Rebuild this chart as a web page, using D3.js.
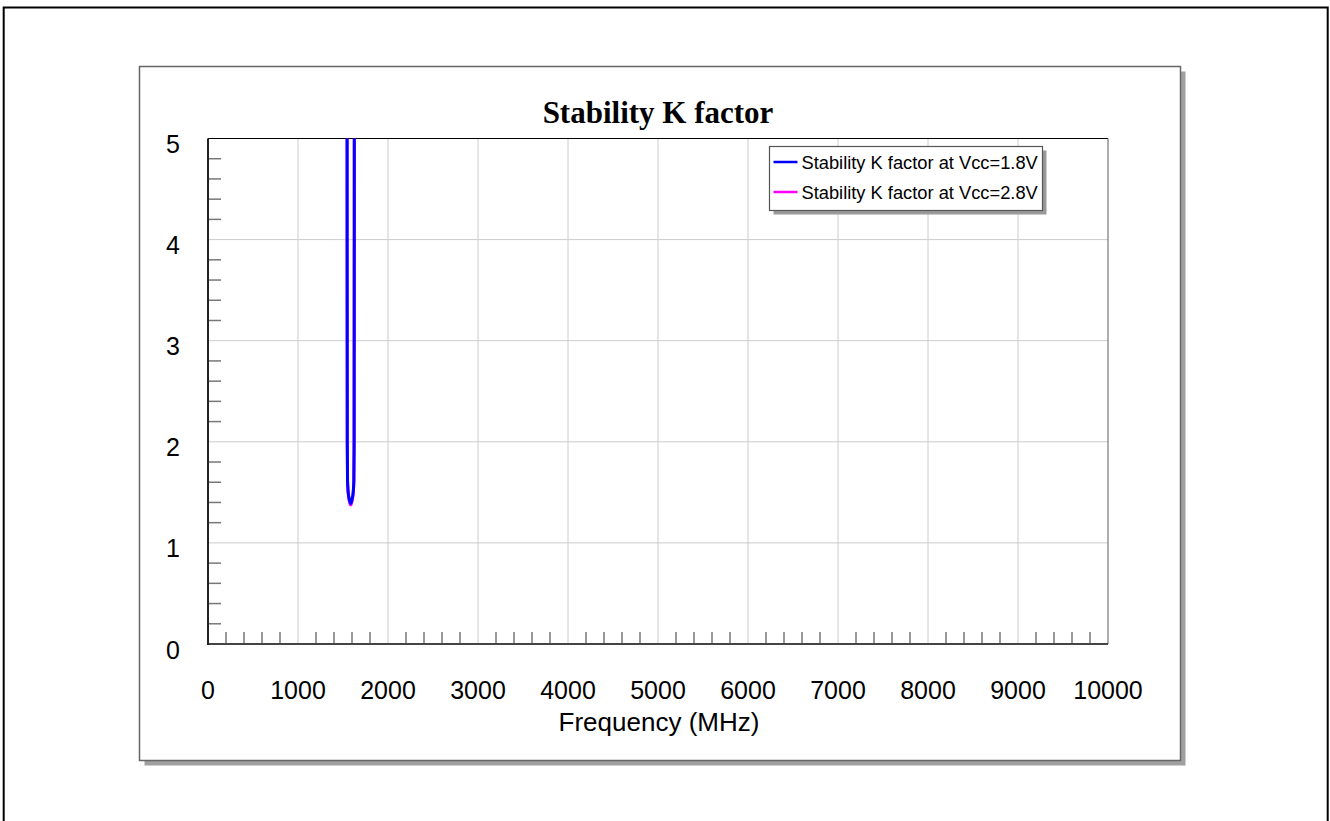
<!DOCTYPE html>
<html>
<head>
<meta charset="utf-8">
<script src="https://cdn.jsdelivr.net/npm/d3@7"></script>
<style>
  html, body { margin: 0; padding: 0; background: #fff; }
  svg { display: block; }
</style>
</head>
<body>
<svg id="chart" width="1330" height="821"></svg>
<script>
// Frequency sweep around the dip (MHz) and K factor for each supply voltage
const freq18 = [1530, 1543, 1545.5, 1547, 1550, 1558, 1568, 1578, 1585.5, 1593, 1603, 1613, 1621, 1624, 1625.5, 1628, 1641];
const k18    = [60,   12,   4.0,    2.0,  1.62, 1.50, 1.44, 1.405, 1.39, 1.405, 1.44, 1.50, 1.62, 2.0,  4.0,    12,   60];
const freq28 = [1531, 1544, 1546.5, 1548, 1551, 1559, 1569, 1579, 1585.5, 1592, 1602, 1612, 1620, 1623, 1624.5, 1627, 1640];
const k28    = [60,   12,   4.0,    2.0,  1.60, 1.48, 1.42, 1.385, 1.375, 1.385, 1.42, 1.48, 1.60, 2.0,  4.0,    12,   60];

const seriesNames  = ["Stability K factor at Vcc=1.8V", "Stability K factor at Vcc=2.8V"];
const seriesColors = ["#0000ff", "#ff00ff"];

const xMajorTicks = [0, 1000, 2000, 3000, 4000, 5000, 6000, 7000, 8000, 9000, 10000];
const yMajorTicks = [0, 1, 2, 3, 4, 5];

const chartTitle = "Stability K factor";
const xAxisTitle = "Frequency (MHz)";

(function () {
const svg = d3.select("#chart");

// outer page frame
svg.append("rect")
  .attr("x", 3.7).attr("y", 7.5).attr("width", 1324).attr("height", 900)
  .attr("fill", "none").attr("stroke", "#000").attr("stroke-width", 2);

// chart panel with drop shadow
const panel = { x: 139.5, y: 66.5, w: 1041, h: 694 };
svg.append("rect")
  .attr("x", panel.x + 5).attr("y", panel.y + 5).attr("width", panel.w).attr("height", panel.h)
  .attr("fill", "#a0a0a0");
svg.append("rect")
  .attr("x", panel.x).attr("y", panel.y).attr("width", panel.w).attr("height", panel.h)
  .attr("fill", "#fff").attr("stroke", "#666").attr("stroke-width", 1.5);

// plot area
const pL = 208, pR = 1108, pT = 138.5, pB = 644;
const x = d3.scaleLinear().domain([0, 10000]).range([pL, pR]);
const y = d3.scaleLinear().domain([0, 5]).range([pB, pT]);

// grid
const g = svg.append("g");
g.selectAll(".vgrid").data(xMajorTicks.slice(1, -1)).enter().append("line")
  .attr("x1", d => x(d)).attr("x2", d => x(d))
  .attr("y1", pT).attr("y2", pB)
  .attr("stroke", "#cccccc").attr("stroke-width", 1);
g.selectAll(".hgrid").data(yMajorTicks.slice(1, -1)).enter().append("line")
  .attr("x1", pL).attr("x2", pR)
  .attr("y1", d => y(d)).attr("y2", d => y(d))
  .attr("stroke", "#cccccc").attr("stroke-width", 1);

// minor ticks
const xMinor = d3.range(200, 10000, 200).filter(v => v % 1000 !== 0);
const yMinor = d3.range(0.2, 5, 0.2).filter(v => Math.abs(v - Math.round(v)) > 1e-6);
g.selectAll(".xminor").data(xMinor).enter().append("line")
  .attr("x1", d => x(d)).attr("x2", d => x(d))
  .attr("y1", pB).attr("y2", pB - 12)
  .attr("stroke", "#777").attr("stroke-width", 1.5);
g.selectAll(".yminor").data(yMinor).enter().append("line")
  .attr("x1", pL).attr("x2", pL + 13)
  .attr("y1", d => y(d)).attr("y2", d => y(d))
  .attr("stroke", "#777").attr("stroke-width", 1.5);

// plot frame
g.append("line").attr("x1", pL).attr("x2", pR).attr("y1", pT).attr("y2", pT)
  .attr("stroke", "#000").attr("stroke-width", 1.2);
g.append("line").attr("x1", pR).attr("x2", pR).attr("y1", pT).attr("y2", pB)
  .attr("stroke", "#777").attr("stroke-width", 1.2);
g.append("line").attr("x1", pL).attr("x2", pR).attr("y1", pB).attr("y2", pB)
  .attr("stroke", "#444").attr("stroke-width", 2);
g.append("line").attr("x1", pL).attr("x2", pL).attr("y1", pT).attr("y2", pB + 1)
  .attr("stroke", "#222").attr("stroke-width", 2);

// tick labels
const font = "'Liberation Sans', Arial, sans-serif";
svg.selectAll(".xlab").data(xMajorTicks).enter().append("text")
  .attr("x", d => x(d)).attr("y", 699)
  .attr("text-anchor", "middle")
  .attr("font-family", font).attr("font-size", 25)
  .text(d => d);
svg.selectAll(".ylab").data(yMajorTicks).enter().append("text")
  .attr("x", 180).attr("y", d => y(d) + 14.5)
  .attr("text-anchor", "end")
  .attr("font-family", font).attr("font-size", 25)
  .text(d => d);

// titles
svg.append("text")
  .attr("x", 658).attr("y", 123)
  .attr("text-anchor", "middle")
  .attr("font-family", "'Liberation Serif', 'Times New Roman', serif")
  .attr("font-weight", "bold").attr("font-size", 31)
  .text(chartTitle);
svg.append("text")
  .attr("x", 659).attr("y", 731)
  .attr("text-anchor", "middle")
  .attr("font-family", font).attr("font-size", 26)
  .text(xAxisTitle);

// curves, clipped to the plot area
svg.append("clipPath").attr("id", "plotClip")
  .append("rect").attr("x", pL).attr("y", pT).attr("width", pR - pL).attr("height", pB - pT);

const line = d3.line().x(d => x(d[0])).y(d => y(d[1])).curve(d3.curveMonotoneX);
const curves = svg.append("g").attr("clip-path", "url(#plotClip)");
const seriesData = [d3.zip(freq18, k18), d3.zip(freq28, k28)];
// draw 2.8V first so 1.8V sits on top
[1, 0].forEach(i => {
  curves.append("path")
    .datum(seriesData[i])
    .attr("fill", "none")
    .attr("stroke", seriesColors[i])
    .attr("stroke-width", 3)
    .attr("stroke-linejoin", "round")
    .attr("d", line);
});

// legend
const lg = { x: 769.5, y: 146.5, w: 273, h: 64 };
svg.append("rect")
  .attr("x", lg.x + 4).attr("y", lg.y + 4).attr("width", lg.w).attr("height", lg.h)
  .attr("fill", "#999");
svg.append("rect")
  .attr("x", lg.x).attr("y", lg.y).attr("width", lg.w).attr("height", lg.h)
  .attr("fill", "#fff").attr("stroke", "#555").attr("stroke-width", 1.2);
seriesNames.forEach((name, i) => {
  const cy = lg.y + 15.5 + i * 30;
  svg.append("line")
    .attr("x1", lg.x + 4).attr("x2", lg.x + 28)
    .attr("y1", cy).attr("y2", cy)
    .attr("stroke", seriesColors[i]).attr("stroke-width", 2.5);
  svg.append("text")
    .attr("x", lg.x + 32).attr("y", cy + 6.5)
    .attr("font-family", font).attr("font-size", 18.3)
    .text(name);
});
})();
</script>
</body>
</html>
